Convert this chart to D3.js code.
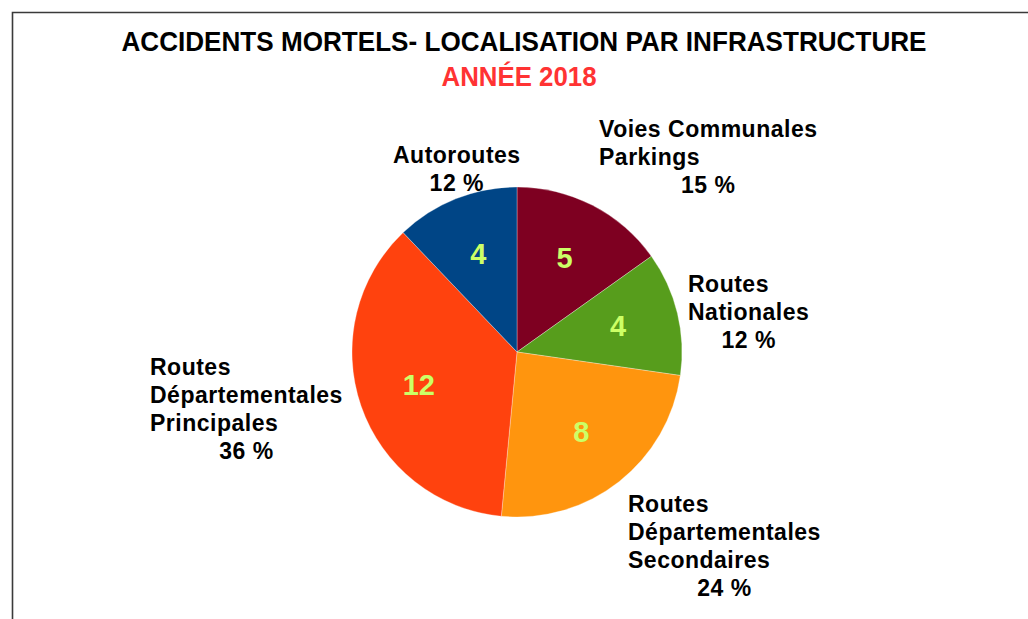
<!DOCTYPE html>
<html>
<head>
<meta charset="utf-8">
<script src="https://cdn.jsdelivr.net/npm/d3@7/dist/d3.min.js"></script>
<style>
  html, body { margin: 0; padding: 0; background: #ffffff; }
  svg { display: block; }
</style>
</head>
<body>
<svg id="chart" width="1028" height="619"></svg>
<script>
// Fatal accidents by road type, 2018
const categories = [
  "Voies Communales Parkings",
  "Routes Nationales",
  "Routes Départementales Secondaires",
  "Routes Départementales Principales",
  "Autoroutes"
];
const labelLines = [
  ["Voies Communales", "Parkings"],
  ["Routes", "Nationales"],
  ["Routes", "Départementales", "Secondaires"],
  ["Routes", "Départementales", "Principales"],
  ["Autoroutes"]
];
const accidents = [5, 4, 8, 12, 4];
const sliceColors = ["#7e0021", "#579d1c", "#ff950e", "#ff420e", "#004586"];

const title = "ACCIDENTS MORTELS- LOCALISATION PAR INFRASTRUCTURE";
const subtitle = "ANNÉE 2018";

// Placement of each outer label block: left edge and first baseline
const labelLayout = [
  { x: 599, y: 137 },
  { x: 688, y: 292 },
  { x: 628, y: 512 },
  { x: 150, y: 375 },
  { x: 393, y: 163 }
];

const svg = d3.select("#chart");
const W = 1028, H = 619;
const cx = 517, cy = 352, R = 165;
const lineH = 28;
const sans = "'Liberation Sans', Arial, sans-serif";

svg.append("rect").attr("width", W).attr("height", H).attr("fill", "#fff");

// frame (top and left edges)
svg.append("path")
  .attr("d", `M12.5,${H} L12.5,12.5 L${W},12.5`)
  .attr("fill", "none")
  .attr("stroke", "#3a3a3a")
  .attr("stroke-width", 1.6);

// titles: condensed bold
svg.append("text")
  .attr("x", 524).attr("y", 51)
  .attr("text-anchor", "middle")
  .attr("font-family", sans)
  .attr("font-weight", "bold")
  .attr("font-size", 28)
  .attr("textLength", 805)
  .attr("lengthAdjust", "spacingAndGlyphs")
  .attr("fill", "#000")
  .text(title);

svg.append("text")
  .attr("x", 519).attr("y", 86)
  .attr("text-anchor", "middle")
  .attr("font-family", sans)
  .attr("font-weight", "bold")
  .attr("font-size", 28)
  .attr("textLength", 155)
  .attr("lengthAdjust", "spacingAndGlyphs")
  .attr("fill", "#ff3333")
  .text(subtitle);

const total = d3.sum(accidents);
const pie = d3.pie().sort(null).value(d => d)(accidents);
const arc = d3.arc().innerRadius(0).outerRadius(R);
const valueArc = d3.arc().innerRadius(R * 0.63).outerRadius(R * 0.63);

const g = svg.append("g").attr("transform", `translate(${cx},${cy})`);

g.selectAll("path.slice")
  .data(pie)
  .join("path")
  .attr("class", "slice")
  .attr("d", arc)
  .attr("fill", (d, i) => sliceColors[i])
  .attr("stroke", "#ffffff")
  .attr("stroke-opacity", 0.5)
  .attr("stroke-width", 0.6);

// values inside slices
g.selectAll("text.value")
  .data(pie)
  .join("text")
  .attr("class", "value")
  .attr("transform", d => `translate(${valueArc.centroid(d)})`)
  .attr("text-anchor", "middle")
  .attr("dy", "0.3em")
  .attr("font-family", sans)
  .attr("font-weight", "bold")
  .attr("font-size", 29)
  .attr("fill", "#ccff66")
  .text(d => d.data);

// outer labels: name lines left-aligned, percentage centred under the block
labelLines.forEach((lines, i) => {
  const pos = labelLayout[i];
  const block = svg.append("g");
  let maxW = 0;
  lines.forEach((ln, k) => {
    const t = block.append("text")
      .attr("x", pos.x)
      .attr("y", pos.y + k * lineH)
      .attr("font-family", sans)
      .attr("font-weight", "bold")
      .attr("font-size", 23)
      .attr("letter-spacing", 0.5)
      .attr("fill", "#000")
      .text(ln);
    maxW = Math.max(maxW, t.node().getComputedTextLength());
  });
  const pct = Math.round(accidents[i] / total * 100);
  block.append("text")
    .attr("x", pos.x + maxW / 2)
    .attr("y", pos.y + lines.length * lineH)
    .attr("text-anchor", "middle")
    .attr("font-family", sans)
    .attr("font-weight", "bold")
    .attr("font-size", 23)
    .attr("letter-spacing", 0.5)
    .attr("fill", "#000")
    .text(pct + " %");
});
</script>
</body>
</html>
